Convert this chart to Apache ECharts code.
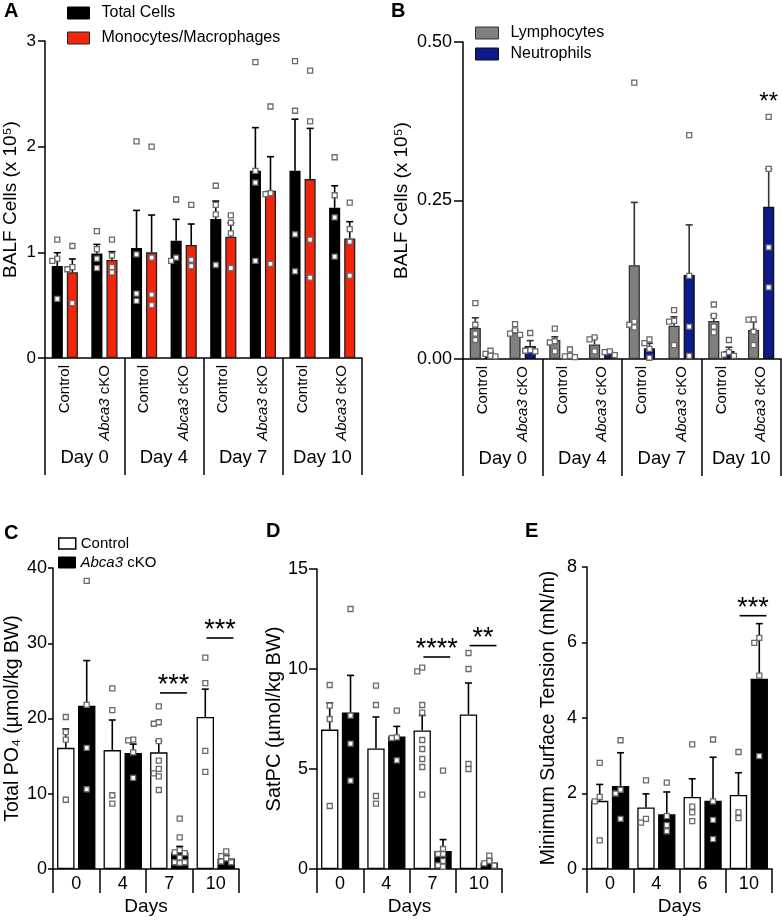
<!DOCTYPE html>
<html><head><meta charset="utf-8">
<script src="https://cdn.jsdelivr.net/npm/echarts@6/dist/echarts.min.js"></script>
<style>html,body{margin:0;padding:0;background:#fff}#c{width:782px;height:920px}</style>
</head><body><div id="c"></div>
<script>
// ---------- DATA ----------
const genoLabels = ['Control', 'Abca3 cKO'];
const dayLabelsAB = ['Day 0', 'Day 4', 'Day 7', 'Day 10'];
const dayTicksCD = ['0', '4', '7', '10'];
const dayTicksE = ['0', '4', '6', '10'];

// Panel A (slots: D0 Ctrl, D0 cKO, D4 Ctrl, D4 cKO, D7 Ctrl, D7 cKO, D10 Ctrl, D10 cKO)
const totalMean = [0.87, 0.99, 1.04, 1.11, 1.315, 1.772, 1.772, 1.422];
const totalSem  = [0.126, 0.085, 0.357, 0.202, 0.17, 0.408, 0.488, 0.208];
const totalPts  = [[1.12,0.94,0.92,0.56],[1.20,1.03,0.94,0.85],[2.05,0.98,0.61,0.54],[1.50,0.95,0.92],
                   [1.63,1.45,1.36,0.88],[2.80,1.77,1.66,0.92],[2.81,2.34,1.17,0.82],[1.90,1.54,1.33,0.96]];
const monoMean = [0.811, 0.927, 1.00, 1.069, 1.148, 1.583, 1.693, 1.132];
const monoSem  = [0.126, 0.079, 0.353, 0.199, 0.132, 0.322, 0.48, 0.158];
const monoPts  = [[1.06,0.86,0.84,0.52],[1.12,0.97,0.86,0.81],[2.00,0.95,0.60,0.50],[1.45,0.93,0.87],
                  [1.35,1.28,1.18,0.85],[2.38,1.56,1.55,0.89],[2.72,2.24,1.12,0.76],[1.47,1.22,1.10,0.78]];

// Panel B
const lymphMean = [0.049, 0.0415, 0.030, 0.023, 0.148, 0.0526, 0.060, 0.0457];
const lymphSem  = [0.016, 0.0045, 0.005, 0.010, 0.099, 0.014, 0.009, 0.013];
const lymphPts  = [[0.088,0.054,0.040,0.030],[0.055,0.045,0.040,0.038],[0.048,0.028,0.026,0.012],[0.034,0.031,0.012],
                   [0.436,0.059,0.054,0.050],[0.077,0.060,0.059,0.022],[0.086,0.068,0.051,0.042],[0.0625,0.062,0.043,0.022]];
const neutMean = [0.0075, 0.0205, 0.005, 0.009, 0.0168, 0.1325, 0.0126, 0.240];
const neutSem  = [0.003, 0.0085, 0.002, 0.003, 0.008, 0.079, 0.006, 0.060];
const neutPts  = [[0.013,0.008,0.005,0.004],[0.041,0.014,0.013,0.012],[0.015,0.005,0.004,0.003],[0.012,0.011,0.006],
                  [0.031,0.025,0.016,0.002],[0.353,0.131,0.051,0.005],[0.030,0.011,0.007,0.005],[0.382,0.300,0.176,0.113]];
const sigB = [[7, 0.413, '**']];

// Panel C: Total PO4
const cCtrlMean = [16.1, 15.8, 15.5, 20.2];
const cCtrlSem  = [2.5, 4.0, 1.5, 3.7];
const cCtrlPts  = [[20.2,18.2,17.2,9.2],[24.0,21.1,9.8,8.7],[21.6,19.5,19.3,17.0,14.4,13.3,12.7,12.3,10.5],[28.1,24.7,15.7,12.9]];
const cKoMean = [21.7, 15.4, 2.2, 1.4];
const cKoSem  = [6.0, 1.2, 0.8, 0.4];
const cKoPts  = [[38.3,21.8,16.1,10.6],[17.2,17.1,15.5,12.1],[6.7,4.2,2.5,2.2,2.1,1.5,0.9,0.9,0.8],[2.35,1.7,1.4,1.0,0.9]];
const sigC = [[2, 23.4, '***'], [3, 30.7, '***']];

// Panel D: SatPC
const dCtrlMean = [6.97, 6.03, 6.93, 7.73];
const dCtrlSem  = [1.33, 1.57, 0.75, 1.57];
const dCtrlPts  = [[9.2,8.17,7.5,3.15],[9.17,8.2,3.65,3.27],[10.07,9.88,8.2,7.82,6.45,6.0,5.5,5.1,3.72],[10.8,10.0,5.25,5.0]];
const dKoMean = [7.82, 6.62, 0.9, 0.33];
const dKoSem  = [1.86, 0.51, 0.57, 0.12];
const dKoPts  = [[13.0,7.67,6.27,4.42],[7.92,6.58,6.55,5.43],[4.92,1.0,0.75,0.75,0.4,0.18,0.12],[0.67,0.4,0.28,0.17]];
const sigD = [[2, 10.6, '****'], [3, 11.17, '**']];

// Panel E: Minimum surface tension
const eCtrlMean = [1.805, 1.63, 1.91, 1.96];
const eCtrlSem  = [0.435, 0.36, 0.48, 0.59];
const eCtrlPts  = [[2.81,1.91,1.79,0.76],[2.35,1.33,1.23],[3.3,1.65,1.5,1.27],[3.1,1.5,1.35]];
const eKoMean = [2.2, 1.45, 1.81, 5.04];
const eKoSem  = [0.88, 0.59, 1.15, 1.46];
const eKoPts  = [[3.41,2.1,2.0,1.33],[2.29,1.4,1.16,1.0],[3.43,1.79,1.3,0.79],[6.12,5.99,5.12,2.99]];
const sigE = [[3, 6.71, '***']];

// ---------- STYLE / BUILD ----------
const FONT = 'Liberation Sans, Arial, Helvetica, sans-serif';
const RED = '#f0260c', BLUE = '#0c1a8c', GRAY = '#808080';
const slotsAB = dayLabelsAB.flatMap(d => genoLabels.map(g => g + '#' + d));
const ital = s => s.replace('Abca3', '{i|Abca3}');

const AB_BW = 0.28, AB_GAP = 0.36, AB_OFF = AB_BW * (1 + AB_GAP) / 2;
const CE_BW = 0.375, CE_GAP = 0.2, CE_OFF = CE_BW * (1 + CE_GAP) / 2;

function overlay(xi, yi, means, sems, pts, off, errColor) {
  return {
    type: 'custom', xAxisIndex: xi, yAxisIndex: yi, z: 5, silent: true,
    data: means.map((m, i) => [i, m, sems[i]]),
    renderItem: function (params, api) {
      const idx = params.dataIndex;
      const cat = api.value(0), m = api.value(1), s = api.value(2);
      const band = api.size([1, 0])[0];
      const p0 = api.coord([cat, m]);
      const p1 = api.coord([cat, m + s]);
      const cx = p0[0] + off * band;
      const kids = [
        {type: 'line', shape: {x1: cx, y1: p0[1], x2: cx, y2: p1[1]}, style: {stroke: errColor, lineWidth: 1.6}},
        {type: 'line', shape: {x1: cx - 3.5, y1: p1[1], x2: cx + 3.5, y2: p1[1]}, style: {stroke: errColor, lineWidth: 1.6}}
      ];
      const placed = [];
      pts[idx].forEach(v => {
        const y = api.coord([cat, v])[1];
        let dx = 0;
        for (const c of [0, -5, 5, -10, 10]) {
          if (!placed.some(q => Math.abs(q[0] - c) < 5 && Math.abs(q[1] - y) < 5)) { dx = c; break; }
        }
        placed.push([dx, y]);
        kids.push({type: 'rect', shape: {x: cx + dx - 2.5, y: y - 2.5, width: 5, height: 5},
                   style: {fill: '#fff', stroke: '#6a6a6a', lineWidth: 1.3}});
      });
      return {type: 'group', children: kids};
    }
  };
}

function sigSeries(xi, yi, sigs, fs, withLine, off) {
  return {
    type: 'custom', xAxisIndex: xi, yAxisIndex: yi, z: 6, silent: true,
    data: sigs.map(s => [s[0], s[1]]),
    renderItem: function (params, api) {
      const s = sigs[params.dataIndex];
      const band = api.size([1, 0])[0];
      const p = api.coord([api.value(0), api.value(1)]);
      const kids = [];
      let tx = p[0] + off * band, ty = p[1];
      if (withLine) {
        const xa = p[0] - 0.2 * band, xb = p[0] + 0.38 * band;
        kids.push({type: 'line', shape: {x1: xa, y1: p[1], x2: xb, y2: p[1]}, style: {stroke: '#000', lineWidth: 1.6}});
        tx = (xa + xb) / 2; ty = p[1] - 13;
      }
      kids.push({type: 'text', style: {text: s[2], x: tx, y: ty + 0.22 * fs, align: 'center', verticalAlign: 'middle',
                 fontSize: fs, fontFamily: FONT, fill: '#000'}});
      return {type: 'group', children: kids};
    }
  };
}

function bar(name, xi, yi, data, color, border, bw, gap) {
  return {type: 'bar', name: name, xAxisIndex: xi, yAxisIndex: yi, data: data,
    barWidth: (bw * 100) + '%', barGap: (gap * 100) + '%', z: 2, silent: true,
    itemStyle: {color: color, borderColor: border, borderWidth: 1.3}};
}

function genoAxis(gi) {
  return {type: 'category', gridIndex: gi, position: 'bottom', data: slotsAB,
    axisLine: {lineStyle: {color: '#000', width: 1.5}}, axisTick: {show: false},
    axisLabel: {rotate: 90, margin: 7, fontSize: 15, color: '#000', interval: 0, fontFamily: FONT,
      formatter: v => ital(v.split('#')[0]), rich: {i: {fontStyle: 'italic', fontSize: 15, fontFamily: FONT, color: '#000'}}},
    splitLine: {show: false}};
}
function dayAxis(gi) {
  return {type: 'category', gridIndex: gi, position: 'bottom', data: dayLabelsAB,
    axisLine: {show: false},
    axisTick: {show: true, length: 117, interval: 0, lineStyle: {color: '#000', width: 1.5}},
    axisLabel: {margin: 90, fontSize: 18.5, color: '#000', interval: 0, fontFamily: FONT},
    splitLine: {show: false}};
}
function daysAxis(gi, labels) {
  return {type: 'category', gridIndex: gi, position: 'bottom', data: labels,
    axisLine: {lineStyle: {color: '#000', width: 1.5}},
    axisTick: {show: true, length: 24, interval: 0, lineStyle: {color: '#000', width: 1.5}},
    axisLabel: {margin: 6, fontSize: 18, color: '#000', interval: 0, fontFamily: FONT},
    name: 'Days', nameLocation: 'middle', nameGap: 28,
    nameTextStyle: {fontSize: 19, color: '#000', fontFamily: FONT},
    splitLine: {show: false}};
}
function valAxis(gi, max, interval, name, gap, nfs, tickLen, margin, lfs, fmt) {
  return {type: 'value', gridIndex: gi, min: 0, max: max, interval: interval,
    axisLine: {show: true, lineStyle: {color: '#000', width: 1.5}},
    axisTick: {show: true, length: tickLen, lineStyle: {color: '#000', width: 1.5}},
    axisLabel: {margin: margin, fontSize: lfs, color: '#000', fontFamily: FONT, formatter: fmt},
    splitLine: {show: false},
    name: name, nameLocation: 'middle', nameGap: gap,
    nameTextStyle: {fontSize: nfs, color: '#000', fontFamily: FONT}};
}
function legend(name, left, top, iw, ih, fs, pad, style) {
  return {show: true, left: left, top: top, orient: 'vertical', selectedMode: false, icon: 'rect',
    itemWidth: iw, itemHeight: ih, padding: 0,
    data: [{name: name, itemStyle: style}],
    formatter: n => ital(n),
    textStyle: {fontSize: fs, color: '#000', fontFamily: FONT, padding: [0, 0, 0, pad],
      rich: {i: {fontStyle: 'italic', fontSize: fs, fontFamily: FONT, color: '#000'}}}};
}

const letter = (t, l, tp) => ({type: 'text', left: l, top: tp,
  style: {text: t, fontSize: 20, fontWeight: 'bold', fontFamily: FONT, fill: '#000'}});

const chart = echarts.init(document.getElementById('c'), null, {renderer: 'canvas'});
chart.setOption({
  animation: false,
  backgroundColor: '#fff',
  textStyle: {fontFamily: FONT},
  grid: [
    {left: 45, top: 41, width: 317, height: 317, outerBoundsMode: 'none'},
    {left: 463, top: 42, width: 318, height: 317, outerBoundsMode: 'none'},
    {left: 53, top: 568, width: 186, height: 301, outerBoundsMode: 'none'},
    {left: 317, top: 569, width: 185, height: 300, outerBoundsMode: 'none'},
    {left: 587, top: 567, width: 185, height: 302, outerBoundsMode: 'none'}
  ],
  xAxis: [genoAxis(0), dayAxis(0), genoAxis(1), dayAxis(1),
          daysAxis(2, dayTicksCD), daysAxis(3, dayTicksCD), daysAxis(4, dayTicksE)],
  yAxis: [
    valAxis(0, 3, 1, 'BALF Cells (x 10\u2075)', 25, 19, 7, 9, 17),
    valAxis(1, 0.5, 0.25, 'BALF Cells (x 10\u2075)', 52, 19, 9, 11, 18, v => v.toFixed(2)),
    valAxis(2, 40, 10, 'Total PO\u2084 (\u00b5mol/kg BW)', 29, 19.5, 5, 6, 18),
    valAxis(3, 15, 5, 'SatPC (\u00b5mol/kg BW)', 32, 20, 8, 9, 18),
    valAxis(4, 8, 2, 'Minimum Surface Tension (mN/m)', 28, 19.5, 5, 10, 18)
  ],
  legend: [
    legend('Total Cells', 67, 5, 22, 12, 16, 7, {color: '#000', borderColor: '#000', borderWidth: 1}),
    legend('Monocytes/Macrophages', 67, 30, 22, 12, 16, 7, {color: RED, borderColor: '#222', borderWidth: 1}),
    legend('Lymphocytes', 475, 25, 23, 12, 16, 7, {color: GRAY, borderColor: '#333', borderWidth: 1}),
    legend('Neutrophils', 475, 46, 23, 12, 16, 7, {color: BLUE, borderColor: '#111', borderWidth: 1}),
    legend('Control', 58, 536, 17, 11, 15, 0, {color: '#fff', borderColor: '#000', borderWidth: 1.5}),
    legend('Abca3 cKO', 58, 555, 17, 11, 15, 0, {color: '#000', borderColor: '#000', borderWidth: 1})
  ],
  graphic: [
    letter('A', 4, 1), letter('B', 391, 1), letter('C', 4, 523), letter('D', 266, 521), letter('E', 525, 521)
  ],
  series: [
    bar('Total Cells', 0, 0, totalMean, '#000', '#000', AB_BW, AB_GAP),
    bar('Monocytes/Macrophages', 0, 0, monoMean, RED, '#222', AB_BW, AB_GAP),
    overlay(0, 0, totalMean, totalSem, totalPts, -AB_OFF, '#000'),
    overlay(0, 0, monoMean, monoSem, monoPts, AB_OFF, '#000'),

    bar('Lymphocytes', 2, 1, lymphMean, GRAY, '#333', AB_BW, AB_GAP),
    bar('Neutrophils', 2, 1, neutMean, BLUE, '#111', AB_BW, AB_GAP),
    overlay(2, 1, lymphMean, lymphSem, lymphPts, -AB_OFF, '#333'),
    overlay(2, 1, neutMean, neutSem, neutPts, AB_OFF, '#333'),
    sigSeries(2, 1, sigB, 24, false, AB_OFF),

    bar('Control', 4, 2, cCtrlMean, '#fff', '#000', CE_BW, CE_GAP),
    bar('Abca3 cKO', 4, 2, cKoMean, '#000', '#000', CE_BW, CE_GAP),
    overlay(4, 2, cCtrlMean, cCtrlSem, cCtrlPts, -CE_OFF, '#000'),
    overlay(4, 2, cKoMean, cKoSem, cKoPts, CE_OFF, '#000'),
    sigSeries(4, 2, sigC, 27, true, 0),

    bar('SatPC Control', 5, 3, dCtrlMean, '#fff', '#000', CE_BW, CE_GAP),
    bar('SatPC Abca3 cKO', 5, 3, dKoMean, '#000', '#000', CE_BW, CE_GAP),
    overlay(5, 3, dCtrlMean, dCtrlSem, dCtrlPts, -CE_OFF, '#000'),
    overlay(5, 3, dKoMean, dKoSem, dKoPts, CE_OFF, '#000'),
    sigSeries(5, 3, sigD, 27, true, 0),

    bar('MST Control', 6, 4, eCtrlMean, '#fff', '#000', CE_BW, CE_GAP),
    bar('MST Abca3 cKO', 6, 4, eKoMean, '#000', '#000', CE_BW, CE_GAP),
    overlay(6, 4, eCtrlMean, eCtrlSem, eCtrlPts, -CE_OFF, '#000'),
    overlay(6, 4, eKoMean, eKoSem, eKoPts, CE_OFF, '#000'),
    sigSeries(6, 4, sigE, 27, true, 0)
  ]
});
</script></body></html>
